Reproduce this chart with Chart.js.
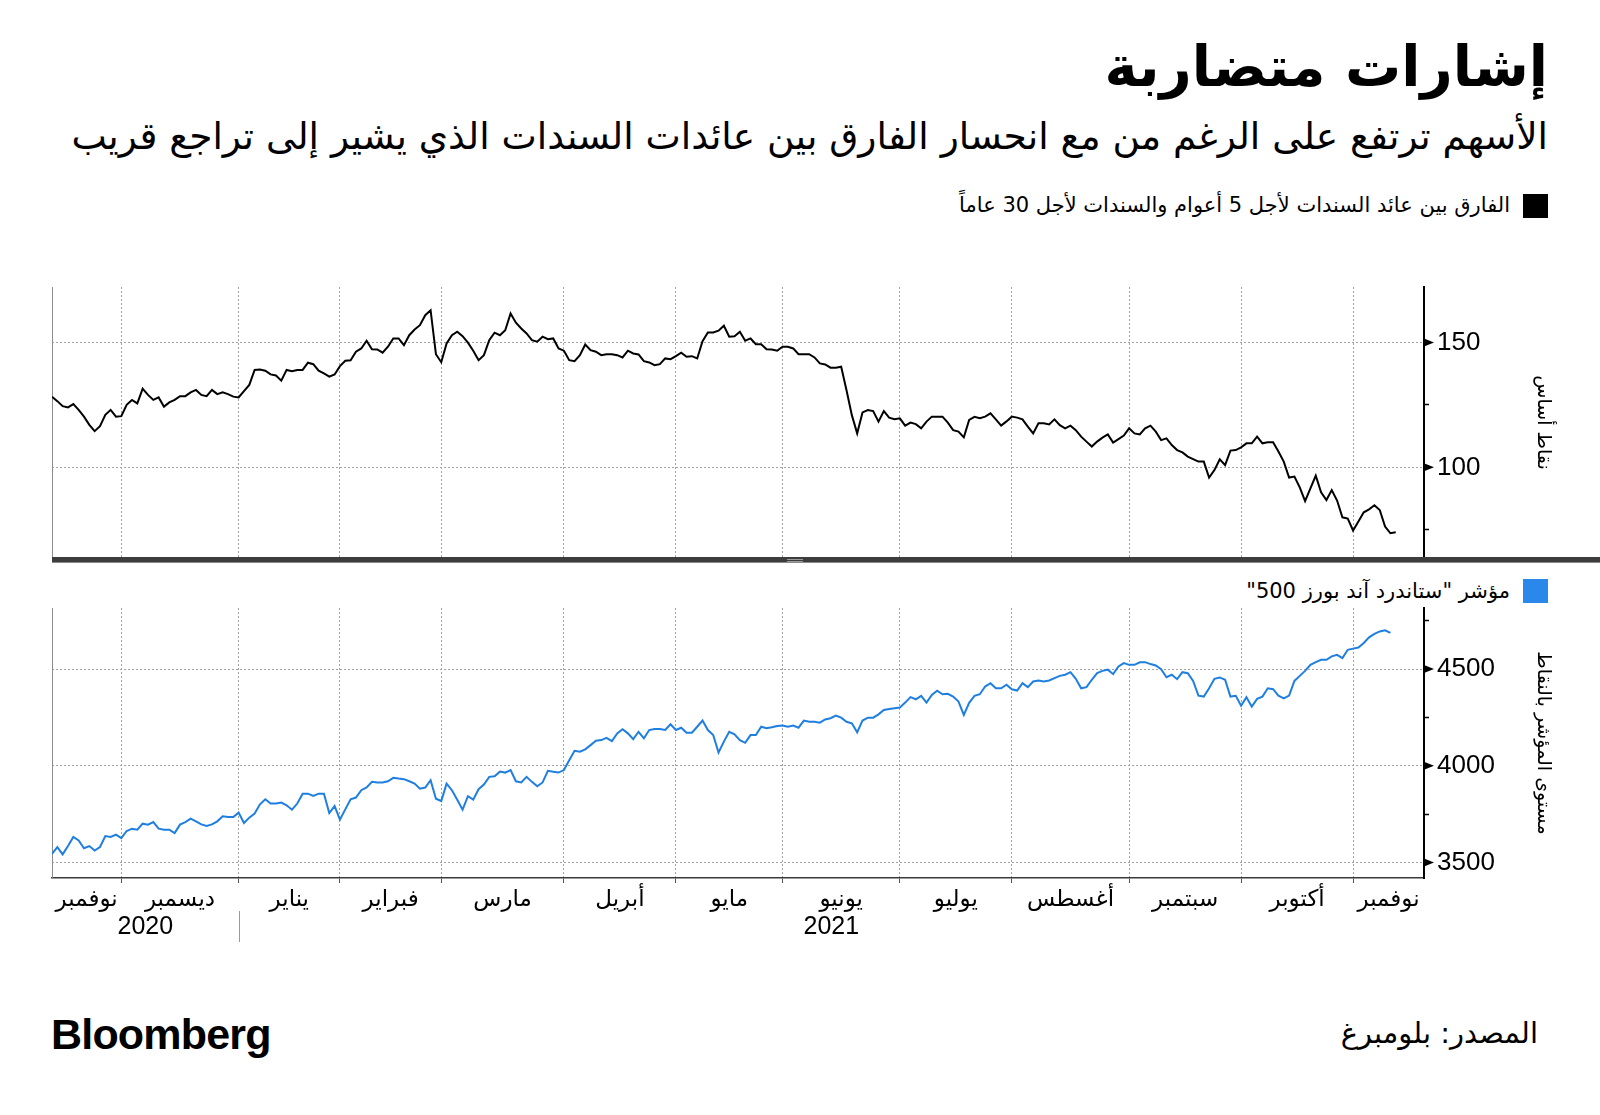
<!DOCTYPE html>
<html lang="ar">
<head>
<meta charset="utf-8">
<script src="https://cdn.jsdelivr.net/npm/chart.js@4.4.0/dist/chart.umd.min.js"></script>
<style>
  body { margin: 0; background: #fff; }
  #page { position: relative; width: 1600px; height: 1115px; overflow: hidden; font-family: 'DejaVu Sans', sans-serif; color: #000; }
  .txt { position: absolute; white-space: nowrap; direction: rtl; }
  #title { right: 52px; top: 38px; font-size: 56px; line-height: 58px; font-weight: bold; }
  #subtitle { right: 52px; top: 118px; font-size: 37.5px; line-height: 37.5px; }
  .legend { right: 90px; font-size: 21px; line-height: 21px; }
  .sq { position: absolute; left: 1523px; width: 25px; height: 24px; }
  #band { position: absolute; left: 52px; top: 557px; width: 1548px; height: 6px; background: #3d3d3d; border-bottom: 1px solid #8a8a8a; box-sizing: border-box; }
  #grip { position: absolute; left: 787px; top: 559px; width: 16px; height: 3px; border-top: 1px solid #9a9a9a; border-bottom: 1px solid #9a9a9a; box-sizing: border-box; }
  canvas { position: absolute; left: 0; }
  #logo { position: absolute; left: 51px; top: 1013px; font-family: 'Liberation Sans', Arial, sans-serif; font-weight: bold; font-size: 43px; line-height: 43px; letter-spacing: -0.8px; }
  #source { right: 62px; top: 1019px; font-size: 29px; line-height: 29px; }
</style>
</head>
<body>
<div id="page">
  <div id="title" class="txt">إشارات متضاربة</div>
  <div id="subtitle" class="txt">الأسهم ترتفع على الرغم من مع انحسار الفارق بين عائدات السندات الذي يشير إلى تراجع قريب</div>

  <div class="sq" style="top:194px;background:#000"></div>
  <div class="txt legend" style="top:195px">الفارق بين عائد السندات لأجل 5 أعوام والسندات لأجل 30 عاماً</div>
  <canvas id="spreadChart" width="1600" height="300" style="top:270px"></canvas>
  <div id="band"></div>
  <div id="grip"></div>

  <div class="sq" style="top:579px;background:#2a88ea"></div>
  <div class="txt legend" style="top:581px">مؤشر "ستاندرد آند بورز 500"</div>
  <canvas id="spxChart" width="1600" height="360" style="top:595px"></canvas>

  <div id="logo">Bloomberg</div>
  <div id="source" class="txt">المصدر: بلومبرغ</div>
</div>
<script>
// trading-day index of the first session of each month (Dec 2020 .. Nov 2021)
const monthStarts = [13, 35, 54, 73, 96, 117, 137, 159, 180, 202, 223, 244];
const monthNames = ['نوفمبر', 'ديسمبر', 'يناير', 'فبراير', 'مارس', 'أبريل', 'مايو', 'يونيو', 'يوليو', 'أغسطس', 'سبتمبر', 'أكتوبر', 'نوفمبر'];
const years = ['2020', '2021'];
const yearStart = 35;

// 5s30s spread, bps, one value per trading day
const spread = [
  128.3, 126.5, 124.5, 124, 125.3, 123, 120.3, 117, 114.5, 116.5,
  121, 123, 120.3, 120.5, 125, 127, 125.6, 131.5, 129, 127,
  128, 124.3, 126, 127, 128.5, 128.5, 130, 131, 129, 128.5,
  131, 129.3, 130, 129.3, 128.3, 128, 130.5, 133, 139, 139.2,
  138.7, 137.2, 136.8, 134.7, 139, 138.5, 139, 139, 141.9, 141.3,
  138.7, 137.6, 136.3, 137.2, 140.5, 142.7, 142.9, 146.3, 147.6, 150.7,
  147.3, 147.2, 145.9, 148.3, 151.6, 151.6, 148.9, 152.9, 155.2, 156.9,
  160.9, 162.9, 145.3, 142.1, 149.6, 152.9, 154.3, 152.5, 149.9, 146.7,
  142.9, 144.9, 150.9, 153.9, 152.9, 154.9, 161.6, 157.9, 155.6, 153.6,
  150.9, 150.3, 152.3, 151.3, 151.6, 147.6, 146.7, 142.9, 142.5, 144.9,
  149.2, 146.9, 146.3, 144.9, 145.3, 145.3, 144.9, 144, 146.7, 145.6,
  145.2, 142.5, 142, 140.9, 141.3, 143.6, 143.3, 144.5, 145.9, 144.3,
  144.5, 143.6, 150.5, 154, 154, 154.7, 156.7, 152.3, 152.5, 154.3,
  150.7, 151.6, 149.3, 149.3, 147.3, 147.2, 146.7, 148.3, 148.3, 147.6,
  145.3, 145.3, 145.3, 144, 141.6, 141.2, 139.9, 139.9, 140.3, 130.9,
  120.9, 113.6, 122, 122.9, 122.5, 118.3, 122.5, 119.9, 119.3, 119.6,
  116.7, 117.9, 117.3, 115.6, 118.3, 120.3, 120.3, 120.3, 117.9, 114.9,
  114.3, 112, 119, 120.2, 119.7, 120.3, 121.6, 119.2, 116.7, 118.4,
  120.3, 119.9, 119.2, 116.3, 113.6, 117.6, 117.6, 117.2, 119.2, 116.9,
  115.6, 116.7, 114.9, 112.3, 110.3, 108.3, 110.3, 111.9, 113.2, 109.9,
  111.3, 112.7, 115.6, 113.6, 113.2, 115.6, 116.7, 114.3, 110.9, 111.6,
  108.9, 106.9, 106, 104.3, 103.3, 102.3, 102.3, 95.9, 98.9, 103.2,
  100.9, 106.7, 106.9, 108, 109.6, 109.6, 112.3, 109.6, 110, 110,
  106.3, 102.3, 95.9, 96.3, 92, 86.5, 91.6, 96.7, 90, 86.9,
  90.9, 86.7, 80, 79.5, 74.7, 78.3, 82, 83.2, 84.8, 82.9,
  76.3, 73.6, 74
];

// S&P 500 close, one value per trading day
const spx = [
  3545, 3580, 3542, 3585, 3632, 3614, 3574, 3585, 3562, 3580,
  3637, 3632, 3644, 3626, 3663, 3675, 3670, 3701, 3696, 3709,
  3675, 3670, 3670, 3652, 3696, 3709, 3727, 3713, 3697, 3689,
  3697, 3713, 3739, 3735, 3735, 3758, 3704, 3732, 3753, 3801,
  3827, 3805, 3805, 3810, 3796, 3773, 3805, 3856, 3856, 3844,
  3856, 3856, 3756, 3792, 3722, 3775, 3827, 3836, 3874, 3888,
  3917, 3914, 3914, 3920, 3938, 3934, 3931, 3920, 3908, 3882,
  3888, 3926, 3830, 3818, 3908, 3874, 3825, 3773, 3843, 3825,
  3879, 3903, 3943, 3946, 3970, 3965, 3978, 3920, 3914, 3943,
  3917, 3894, 3914, 3974, 3969, 3965, 3978, 4029, 4078, 4073,
  4085, 4107, 4130, 4133, 4145, 4128, 4168, 4189, 4168, 4138,
  4176, 4142, 4185, 4190, 4190, 4185, 4215, 4185, 4197, 4171,
  4171, 4202, 4234, 4185, 4159, 4069, 4125, 4176, 4163, 4133,
  4119, 4159, 4159, 4202, 4194, 4199, 4206, 4208, 4202, 4208,
  4197, 4234, 4228, 4228, 4223, 4240, 4246, 4260, 4249, 4228,
  4220, 4173, 4234, 4249, 4249, 4266, 4289, 4294, 4298, 4301,
  4327, 4355, 4344, 4362, 4327, 4367, 4388, 4370, 4372, 4358,
  4332, 4263, 4326, 4362, 4370, 4410, 4427, 4401, 4401, 4419,
  4396, 4389, 4427, 4407, 4436, 4441, 4436, 4441, 4453, 4465,
  4471, 4484, 4450, 4401, 4407, 4445, 4479, 4491, 4497, 4474,
  4514, 4531, 4522, 4522, 4535, 4536, 4526, 4519, 4500, 4458,
  4471, 4448, 4484, 4479, 4439, 4363, 4358, 4401, 4450, 4457,
  4445, 4358, 4362, 4311, 4355, 4306, 4346, 4358, 4401, 4396,
  4363, 4349, 4363, 4439, 4465, 4491, 4522, 4536, 4548, 4548,
  4566, 4574, 4557, 4600, 4606, 4612, 4635, 4664, 4682, 4695,
  4701, 4687
];

const spreadTicks = [75, 100, 125, 150];
const spxTicks = [3500, 3750, 4000, 4250, 4500, 4750];

const X_MAX = 257.3;
const ARABIC = "'DejaVu Sans', sans-serif";
const NUM = "'Liberation Sans', Arial, sans-serif";
const GRID = '#a3a3a3';
const NONE = 'rgba(0,0,0,0)';

// gridlines at month starts, labels in the middle of each month
function monthTicks(scale) {
  const edges = [0, ...monthStarts, X_MAX];
  const ticks = monthStarts.map(v => ({ value: v }));
  monthNames.forEach((m, i) => ticks.push({ value: (edges[i] + edges[i + 1]) / 2, month: m }));
  ticks.sort((a, b) => a.value - b.value);
  scale.ticks = ticks;
}

const isMonth = c => c.tick && c.tick.month;

// black arrowheads on the labelled ticks
const markers = {
  id: 'markers',
  afterDraw(chart, args, opts) {
    const s = chart.scales.y, ctx = chart.ctx;
    ctx.save();
    ctx.fillStyle = '#000';
    s.ticks.forEach(t => {
      if (t.value % opts.step) return;
      const y = s.getPixelForValue(t.value);
      ctx.beginPath();
      ctx.moveTo(s.left, y - 4);
      ctx.lineTo(s.left + 10, y);
      ctx.lineTo(s.left, y + 4);
      ctx.closePath();
      ctx.fill();
    });
    ctx.restore();
  }
};

// second row of the time axis: years
const yearRow = {
  id: 'yearRow',
  afterDraw(chart) {
    const x = chart.scales.x, ctx = chart.ctx, y = x.top + 49;
    ctx.save();
    ctx.font = '25px ' + NUM;
    ctx.fillStyle = '#000';
    ctx.textAlign = 'center';
    ctx.textBaseline = 'middle';
    ctx.fillText(years[0], x.getPixelForValue(yearStart / 2), y);
    ctx.fillText(years[1], x.getPixelForValue((yearStart + X_MAX) / 2), y);
    const sx = Math.round(x.getPixelForValue(yearStart)) + 0.5;
    ctx.strokeStyle = '#9a9a9a';
    ctx.lineWidth = 1;
    ctx.beginPath();
    ctx.moveTo(sx, x.top + 33);
    ctx.lineTo(sx, x.top + 64);
    ctx.stroke();
    ctx.restore();
  }
};

function rightAxis(min, max, ticks, step, title) {
  return {
    position: 'right', min, max,
    afterBuildTicks: s => { s.ticks = ticks.map(v => ({ value: v })); },
    afterFit: s => { s.width = 176; s.paddingTop = 0; s.paddingBottom = 0; },
    ticks: { callback: v => (v % step === 0 ? v : ''), color: '#000', font: { family: NUM, size: 26 }, padding: 8 },
    grid: {
      color: c => (c.tick && c.tick.value % step === 0 ? GRID : NONE),
      tickColor: c => (c.tick && c.tick.value % step === 0 ? NONE : '#000'),
      tickLength: 5, tickWidth: 1.5, lineWidth: 1
    },
    border: { color: '#000', width: 2, dash: [2, 2] },
    title: { display: true, text: title, color: '#000', font: { family: ARABIC, size: 19 }, padding: { top: 46, bottom: 0 } }
  };
}

const leftEdge = {
  position: 'left', min: 0, max: 1,
  afterFit: s => { s.width = 0; s.paddingTop = 0; s.paddingBottom = 0; },
  ticks: { display: false },
  grid: { display: false, drawTicks: false },
  border: { color: '#8c8c8c', width: 1 }
};

function lineChart(id, values, color, padding, xAxis, yAxis, step, plugins) {
  return new Chart(document.getElementById(id), {
    type: 'line',
    data: {
      labels: values.map((_, i) => i),
      datasets: [{ data: values, borderColor: color, borderWidth: 2, pointRadius: 0, tension: 0, fill: false }]
    },
    options: {
      responsive: false,
      animation: false,
      devicePixelRatio: 1,
      layout: { padding },
      plugins: { legend: { display: false }, tooltip: { enabled: false }, markers: { step } },
      scales: { x: xAxis, y: yAxis, yl: leftEdge }
    },
    plugins: [markers].concat(plugins)
  });
}

lineChart('spreadChart', spread, '#000', { top: 17, bottom: 12, left: 52, right: 0 },
  {
    type: 'linear', min: 0, max: X_MAX,
    afterBuildTicks: monthTicks,
    afterFit: s => { s.height = 0; s.paddingLeft = 0; s.paddingRight = 0; },
    ticks: { display: false, autoSkip: false },
    grid: { color: c => (isMonth(c) ? NONE : GRID), drawTicks: false },
    border: { display: false, dash: [2, 2] }
  },
  rightAxis(63.7, 172.2, spreadTicks, 50, 'نقاط أساس'), 50, []);

lineChart('spxChart', spx, '#1f7fe0', { top: 13, bottom: 0, left: 52, right: 0 },
  {
    type: 'linear', min: 0, max: X_MAX,
    afterBuildTicks: monthTicks,
    afterFit: s => { s.height = 77; s.paddingLeft = 0; s.paddingRight = 0; },
    ticks: {
      autoSkip: false, maxRotation: 0, minRotation: 0, padding: 3, color: '#000',
      font: { family: ARABIC, size: 23 },
      callback: (v, i, t) => t[i].month || ''
    },
    grid: { color: c => (isMonth(c) ? NONE : GRID), tickColor: c => (isMonth(c) ? NONE : '#555'), tickLength: 5 },
    border: { color: '#3a3a3a', width: 1.5, dash: [2, 2] }
  },
  rightAxis(3420, 4816, spxTicks, 500, 'مستوى المؤشر بالنقاط'), 500, [yearRow]);
</script>
</body>
</html>
